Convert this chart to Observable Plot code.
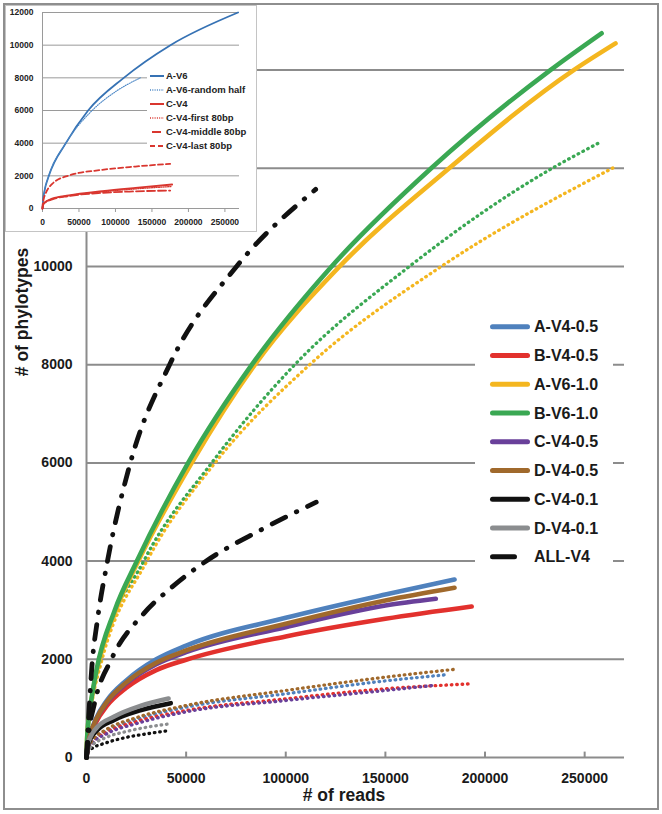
<!DOCTYPE html>
<html>
<head>
<meta charset="utf-8">
<script src="https://cdn.jsdelivr.net/npm/d3@7"></script>
<script src="https://cdn.jsdelivr.net/npm/@observablehq/plot@0.6"></script>
<style>
html,body{margin:0;padding:0;background:#fff;}
#chart{position:relative;width:662px;height:814px;overflow:hidden;font-family:"Liberation Sans",Arial,Helvetica,sans-serif;}
#chart > *{position:absolute;}
#main{left:0;top:0;}
#main svg,#inset svg{display:block;}
#inset{left:5px;top:5px;border:1px solid #c4c4c4;background:#fff;width:250px;height:225px;}
#overlay{left:0;top:0;pointer-events:none;}
#frame{left:3px;top:3px;width:652px;height:803px;border:2px solid #8e8e8e;pointer-events:none;}
</style>
</head>
<body>
<div id="chart"><div id="main"></div><div id="inset"></div><svg id="overlay" width="662" height="814"></svg><div id="frame"></div></div>
<script>
// ---------- tick values ----------
const xTicks = [0, 50000, 100000, 150000, 200000, 250000];
const yTicks = [0, 2000, 4000, 6000, 8000, 10000, 12000, 14000];
const insetYTicks = [0, 2000, 4000, 6000, 8000, 10000, 12000];

// ---------- main chart series (reads, phylotypes) ----------
const legendNames = ["A-V4-0.5", "B-V4-0.5", "A-V6-1.0", "B-V6-1.0", "C-V4-0.5", "D-V4-0.5", "C-V4-0.1", "D-V4-0.1", "ALL-V4"];
const legendColors = ["#4f81bd", "#e2312d", "#f4b61f", "#3aa853", "#69409a", "#a0692c", "#111111", "#8b8d8f", "#111111"];

const aV4_05 = [[0,0],[500,214],[2000,491],[5000,813],[10000,1150],[20000,1570],[35000,2000],[50000,2280],[100000,2845],[150000,3320],[184700,3626]];
const bV4_05 = [[0,0],[500,194],[2000,444],[5000,735],[10000,1040],[20000,1420],[35000,1780],[50000,1990],[100000,2465],[150000,2825],[193300,3076]];
const aV6_10 = [[0,0],[300,370],[1000,740],[2500,1170],[5200,1760],[14500,2970],[26000,4000],[52800,6000],[84500,8000],[127000,10000],[182000,12000],[244500,14000],[265500,14545]];
const bV6_10 = [[0,0],[300,380],[1000,760],[2500,1200],[5000,1780],[14000,2980],[25300,4000],[51000,6000],[83000,8000],[123000,10000],[173000,12000],[232800,14000],[258500,14750]];
const cV4_05 = [[0,0],[500,206],[2000,472],[5000,782],[10000,1106],[20000,1510],[35000,1900],[50000,2145],[100000,2654],[150000,3096],[175300,3232]];
const dV4_05 = [[0,0],[500,209],[2000,478],[5000,792],[10000,1120],[20000,1530],[35000,1930],[50000,2180],[100000,2723],[150000,3198],[184700,3456]];
const cV4_01 = [[0,0],[500,200],[2000,380],[5000,540],[13700,760],[27000,960],[42300,1106]];
const dV4_01 = [[0,0],[500,230],[2000,420],[5000,600],[13700,830],[27000,1050],[41200,1200]];

// dotted companions (same colours, not in legend)
const aV4_05_dot = [[0,0],[1000,190],[3000,330],[10000,540],[25000,775],[50000,1025],[100000,1297],[150000,1560],[181700,1690]];
const bV4_05_dot = [[0,0],[1000,180],[3000,310],[10000,510],[25000,730],[50000,957],[100000,1195],[150000,1400],[193300,1501]];
const aV6_10_dot = [[0,0],[300,320],[1000,660],[3000,1180],[7500,1950],[30300,4000],[64500,6000],[112000,8000],[178000,10000],[264800,12020]];
const bV6_10_dot = [[0,0],[300,330],[1000,680],[2800,1200],[7000,2000],[28700,4000],[62800,6000],[104500,8000],[162000,10000],[233700,12000],[257800,12530]];
const cV4_05_dot = [[0,0],[1000,165],[3000,290],[10000,480],[25000,690],[50000,930],[100000,1161],[150000,1365],[174200,1467]];
const dV4_05_dot = [[0,0],[1000,200],[3000,350],[10000,570],[25000,810],[50000,1059],[100000,1365],[150000,1636],[184200,1793]];
const cV4_01_dot = [[0,0],[500,80],[2000,160],[10000,300],[20000,410],[30000,480],[40000,540]];
const dV4_01_dot = [[0,0],[500,105],[2000,210],[10000,410],[20000,530],[30000,615],[40700,680]];

// ALL-V4 (two dash-dot curves)
const allV4_a = [[0,0],[1200,900],[2800,1900],[5300,2750],[10300,3950],[22000,6000],[41700,8000],[75300,10000],[115000,11570]];
const allV4_b = [[0,0],[1000,450],[4000,1100],[12500,2000],[28700,2930],[42000,3440],[60300,4007],[87000,4624],[115300,5200]];

// ---------- inset series ----------
const insetNames = ["A-V6", "A-V6-random half", "C-V4", "C-V4-first 80bp", "C-V4-middle 80bp", "C-V4-last 80bp"];
const insetColors = ["#3672b4", "#4a86c5", "#d9362f", "#d9362f", "#d9362f", "#d9362f"];
const insA_V6 = [[0,0],[600,430],[2500,1020],[8700,2000],[32000,4000],[62500,6000],[111400,8000],[175300,10000],[268000,12000]];
const insA_V6_half = [[0,0],[600,430],[2500,1020],[8700,2000],[32000,4000],[68000,6000],[100000,7150],[134000,8000]];
const insC_V4 = [[0,0],[500,170],[2000,330],[13300,600],[36000,800],[81800,1060],[127400,1265],[177700,1469]];
const insC_V4_first = [[0,0],[500,165],[2000,320],[13300,580],[36000,780],[81800,1020],[127400,1200],[177000,1346]];
const insC_V4_mid = [[0,0],[500,160],[2000,310],[13300,560],[36000,760],[81800,960],[127400,1050],[175000,1100]];
const insC_V4_last = [[0,0],[500,300],[1500,560],[4100,900],[13300,1510],[36000,2020],[81800,2366],[127400,2570],[175000,2734]];

// ---------- build ----------
const FONT = "'Liberation Sans', Arial, Helvetica, sans-serif";
const toRows = (name, pts) => pts.map(([reads, phylo]) => ({series: name, reads, phylo}));
const fmt = d => String(d);

const solidData = [aV4_05, bV4_05, aV6_10, bV6_10, cV4_05, dV4_05, cV4_01, dV4_01];
const dottedData = [aV4_05_dot, bV4_05_dot, aV6_10_dot, bV6_10_dot, cV4_05_dot, dV4_05_dot, cV4_01_dot, dV4_01_dot];
const allV4Data = [allV4_a, allV4_b];

const lineMarks = [];
dottedData.forEach((pts, i) => lineMarks.push(Plot.line(toRows(legendNames[i] + " dotted", pts), {
  x: "reads", y: "phylo", stroke: legendColors[i], strokeWidth: 3.3,
  strokeDasharray: "0.6,4.8", strokeLinecap: "round", curve: "monotone-x"
})));
solidData.forEach((pts, i) => lineMarks.push(Plot.line(toRows(legendNames[i], pts), {
  x: "reads", y: "phylo", stroke: legendColors[i], strokeWidth: 4.6,
  strokeLinecap: "round", strokeLinejoin: "round", curve: "monotone-x"
})));
allV4Data.forEach((pts, i) => lineMarks.push(Plot.line(toRows("ALL-V4 " + i, pts), {
  x: "reads", y: "phylo", stroke: legendColors[8], strokeWidth: 4.8,
  strokeDasharray: "15,12,0.5,12", strokeLinecap: "round", curve: "monotone-x"
})));

const mainPlot = Plot.plot({
  width: 662, height: 814,
  marginLeft: 86, marginRight: 38, marginTop: 20.5, marginBottom: 57,
  x: {domain: [0, 270000]},
  y: {domain: [0, 15000]},
  style: {fontFamily: FONT, background: "transparent", color: "#1a1a1a"},
  marks: [
    Plot.gridY(yTicks, {stroke: "#8c8c8c", strokeOpacity: 1, strokeWidth: 2}),
    Plot.ruleX([0], {stroke: "#8c8c8c", strokeWidth: 2}),
    Plot.ruleX(xTicks.slice(1), {y1: 0, y2: 110, stroke: "#8c8c8c", strokeWidth: 2}),
    Plot.axisX(xTicks, {tickSize: 0, tickPadding: 16, tickFormat: fmt, fontSize: 14, fontWeight: "bold", label: null}),
    Plot.axisY(yTicks, {tickSize: 0, tickPadding: 14, tickFormat: fmt, fontSize: 14, fontWeight: "bold", label: null}),
    ...lineMarks
  ]
});
document.getElementById("main").appendChild(mainPlot);

// inset
const insetStyles = [
  {w: 1.8, dash: null},
  {w: 1.1, dash: "1,1.3"},
  {w: 1.8, dash: null},
  {w: 1.3, dash: "1,1.3"},
  {w: 1.8, dash: "8,3"},
  {w: 1.8, dash: "5,3"}
];
const insetData = [insA_V6, insA_V6_half, insC_V4, insC_V4_first, insC_V4_mid, insC_V4_last];
const insetLines = insetData.map((pts, i) => Plot.line(toRows(insetNames[i], pts), {
  x: "reads", y: "phylo", stroke: insetColors[i], strokeWidth: insetStyles[i].w,
  strokeDasharray: insetStyles[i].dash, curve: "monotone-x"
}));

const insetPlot = Plot.plot({
  width: 250, height: 225,
  marginLeft: 36, marginRight: 17, marginTop: 6, marginBottom: 23,
  x: {domain: [0, 270000]},
  y: {domain: [0, 12000]},
  style: {fontFamily: FONT, background: "transparent", color: "#222"},
  marks: [
    Plot.gridY(insetYTicks, {stroke: "#9a9a9a", strokeOpacity: 1, strokeWidth: 1}),
    Plot.ruleX([0], {stroke: "#9a9a9a", strokeWidth: 1}),
    Plot.axisX(xTicks, {tickSize: 4, stroke: "#9a9a9a", tickPadding: 6, tickFormat: fmt, fontSize: 8.5, fontWeight: "bold", label: null}),
    Plot.axisY(insetYTicks, {tickSize: 0, tickPadding: 9, tickFormat: fmt, fontSize: 8.5, fontWeight: "bold", label: null}),
    ...insetLines
  ]
});
document.getElementById("inset").appendChild(insetPlot);

// overlay: titles + legends
const ov = d3.select("#overlay");
ov.append("text")
  .attr("transform", "translate(22,312) rotate(-90)")
  .attr("text-anchor", "middle").attr("dy", "0.35em")
  .attr("fill", "#1a1a1a")
  .style("font", `bold 17.5px ${FONT}`)
  .text("# of phylotypes");
ov.append("text")
  .attr("x", 344).attr("y", 795)
  .attr("text-anchor", "middle").attr("dy", "0.35em")
  .attr("fill", "#1a1a1a")
  .style("font", `bold 17.5px ${FONT}`)
  .text("# of reads");

// main legend
ov.append("rect").attr("x", 475).attr("y", 311).attr("width", 138).attr("height", 262).attr("fill", "#fff");
legendNames.forEach((name, i) => {
  const y = 326.7 + i * 28.75;
  const last = i === legendNames.length - 1;
  ov.append("line")
    .attr("x1", 492.5).attr("x2", last ? 514.5 : 527.5)
    .attr("y1", y).attr("y2", y)
    .attr("stroke", legendColors[i]).attr("stroke-width", 5).attr("stroke-linecap", "round");
  ov.append("text")
    .attr("x", 534).attr("y", y).attr("dy", "0.35em")
    .attr("fill", "#1a1a1a")
    .style("font", `bold 16px ${FONT}`)
    .text(name);
});

// inset legend
ov.append("rect").attr("x", 147).attr("y", 69).attr("width", 100).attr("height", 84).attr("fill", "#fff");
insetNames.forEach((name, i) => {
  const y = 76 + i * 14;
  const mid = i === 4;
  ov.append("line")
    .attr("x1", mid ? 152 : 150).attr("x2", mid ? 161 : 164)
    .attr("y1", y).attr("y2", y)
    .attr("stroke", insetColors[i]).attr("stroke-width", insetStyles[i].w + 0.2)
    .attr("stroke-dasharray", mid ? null : insetStyles[i].dash);
  ov.append("text")
    .attr("x", 166).attr("y", y).attr("dy", "0.35em")
    .attr("fill", "#222")
    .style("font", `bold 9.5px ${FONT}`)
    .text(name);
});
</script>
</body>
</html>
